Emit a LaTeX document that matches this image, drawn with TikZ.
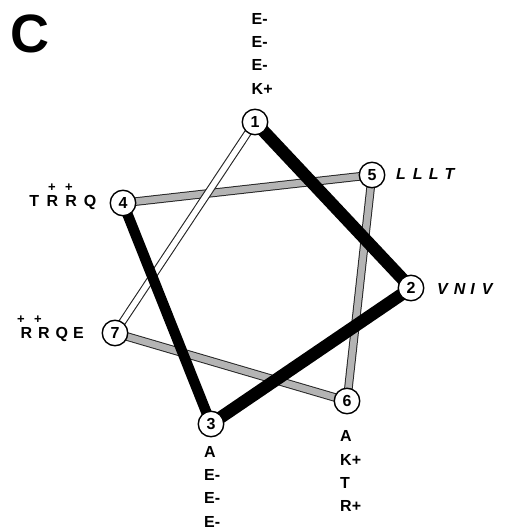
\documentclass[tikz,border=0pt]{standalone}
\usepackage{fontspec}
\setmainfont{Liberation Sans}
\usetikzlibrary{backgrounds}
\definecolor{helixgray}{HTML}{B4B4B4}
\begin{document}
\begin{tikzpicture}[x=1pt,y=-1pt,
  res/.style={circle, draw, line width=1.4pt, fill=white, minimum size=25.5pt, inner sep=0pt,
    font=\fontsize{16}{16}\selectfont\bfseries},
  lab/.style={inner sep=0pt, font=\fontsize{16}{16}\selectfont\bfseries},
  ilab/.style={inner sep=0pt, font=\fontsize{16}{16}\selectfont\bfseries\itshape},
  col/.style={inner sep=0pt, align=left, anchor=north west, font=\fontsize{16}{23.3}\selectfont\bfseries},
  plus/.style={inner sep=0pt, font=\fontsize{13}{13}\selectfont\bfseries},
  hyd/.style={line width=12pt, black},
  rimgray/.style={line width=8.6pt, black!85},
  rimwhite/.style={line width=7.8pt, black!85},
  grayfill/.style={line width=6.6pt, helixgray},
  whitefill/.style={line width=5.6pt, white}]
\useasboundingbox (0,0) rectangle (507,527);
\clip (0,0) rectangle (507,527);

% panel letter
\node[inner sep=0pt, font=\fontsize{54}{54}\selectfont\bfseries] (panel) at (29.5,34) {C};

% residue positions
\node[res] (r1) at (255,122) {1};
\node[res] (r5) at (372,175) {5};
\node[res] (r2) at (411,288) {2};
\node[res] (r6) at (347,401) {6};
\node[res] (r3) at (211,424) {3};
\node[res] (r7) at (115,333) {7};
\node[res] (r4) at (123,203) {4};

\begin{pgfonlayer}{background}
  % gray segments
  \foreach \a/\b in {r4/r5, r5/r6, r6/r7} {
    \draw[rimgray] (\a.center) -- (\b.center);
    \draw[grayfill] (\a.center) -- (\b.center);
  }
  % white segment
  \draw[rimwhite] (r7.center) -- (r1.center);
  \draw[whitefill] (r7.center) -- (r1.center);
  % black segments
  \draw[hyd, line width=12.5pt] (r1.center) -- (r2.center);
  \draw[hyd, line width=12.5pt] (r2.center) -- (r3.center);
  \draw[hyd, line width=10.5pt] (r3.center) -- (r4.center);
\end{pgfonlayer}

% labels
\node[col] (t1) at (251.5,13) {E-\\E-\\E-\\K+};
\node[col] (t3) at (204,446) {A\\E-\\E-\\E-};
\node[col] (t6) at (340,430.5) {A\\K+\\T\\R+};

\node[ilab, anchor=west] (t5) at (396,174) {L\hspace{7pt}L\hspace{6pt}L\hspace{6pt}T};
\node[ilab, anchor=west] (t2) at (437,289) {V\hspace{6pt}N\hspace{5pt}I\hspace{7pt}V};

\node[lab, anchor=east] (t4) at (96.5,202) {T\hspace{7.5pt}R\hspace{7pt}R\hspace{7pt}Q};
\node[plus] (p4a) at (52,188) {+};
\node[plus] (p4b) at (69,188) {+};

\node[lab, anchor=east] (t7) at (84,334) {R\hspace{6pt}R\hspace{6pt}Q\hspace{5pt}E};
\node[plus] (p7a) at (21,320) {+};
\node[plus] (p7b) at (38,320) {+};
\end{tikzpicture}
\end{document}
